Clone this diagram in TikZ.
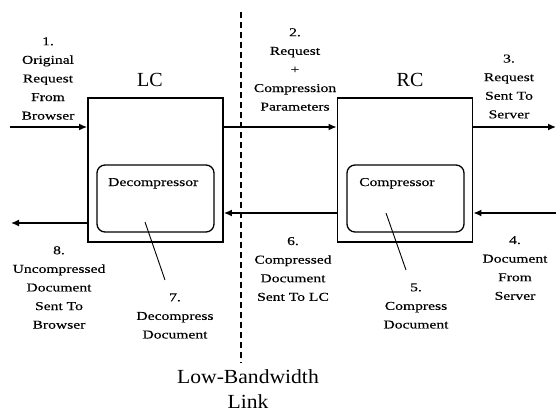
\documentclass[tikz,border=0pt]{standalone}
\usepackage{fontspec}
\setmainfont{Liberation Serif}
\newfontfamily\lblfont[FakeStretch=1.3,FakeBold=0.3]{Liberation Serif}
\newfontfamily\bigfont[FakeStretch=1.08]{Liberation Serif}
\usetikzlibrary{arrows.meta}
\begin{document}
\begin{tikzpicture}[x=1pt,y=-1pt,
  outerbox/.style={draw,line width=1.8pt,minimum width=135pt,minimum height=144pt,inner sep=0pt},
  innerbox/.style={draw,line width=1.3pt,rounded corners=8pt,minimum width=117pt,minimum height=67pt,inner sep=0pt},
  flow/.style={line width=1.4pt,-{Latex[length=8pt,width=7pt]}},
  lbl/.style={align=center,inner sep=0pt,font=\lblfont\fontsize{12}{18.6}\selectfont},
  title/.style={inner sep=0pt,font=\fontsize{20}{24}\selectfont},
  pointer/.style={line width=0.9pt},
  link/.style={line width=1.3pt,dash pattern=on 6pt off 4pt}]
\useasboundingbox (0,0) rectangle (556,412);

% the two proxies
\node[outerbox] (lc) at (155.5,170) {};
\node[outerbox] (rc) at (405,170) {};
\node[innerbox] (dec) at (155.5,198.5) {};
\node[innerbox] (com) at (405.5,198.5) {};
\node[lbl,anchor=base west] (dect) at (108,186) {Decompressor};
\node[lbl,anchor=base west] (comt) at (359,186) {Compressor};
\node[title] (lct) at (150,80) {LC};
\node[title] (rct) at (410,80) {RC};

% low-bandwidth link
\coordinate (linktop) at (241,12);
\coordinate (linkbot) at (241,363);
\draw[link] (linktop) -- (linkbot);
\node[align=center,inner sep=0pt,font=\bigfont\fontsize{20}{25}\selectfont] (linkt) at (248,389) {Low-Bandwidth\\Link};

% free ends of the outer arrows
\coordinate (browserin) at (10,127);
\coordinate (serverout) at (556,127);
\coordinate (serverin) at (556,213);
\coordinate (browserout) at (11,223);

% request path
\draw[flow] (browserin) -- (browserin -| lc.west);
\draw[flow] (lc.east |- browserin) -- (rc.west |- browserin);
\draw[flow] (rc.east |- serverout) -- (serverout);

% response path
\draw[flow] (serverin) -- (serverin -| rc.east);
\draw[flow] (rc.west |- serverin) -- (lc.east |- serverin);
\draw[flow] (lc.west |- browserout) -- (browserout);

% step labels
\node[lbl] (s1) at (48,78.5) {1.\\Original\\Request\\From\\Browser};
\node[lbl] (s2) at (295,69.5) {2.\\Request\\+\\Compression\\Parameters};
\node[lbl] (s3) at (509,86.5) {3.\\Request\\Sent To\\Server};
\node[lbl] (s4) at (515,268) {4.\\Document\\From\\Server};
\node[lbl] (s5) at (416,306) {5.\\Compress\\Document};
\node[lbl] (s6) at (293,269) {6.\\Compressed\\Document\\Sent To LC};
\node[lbl] (s7) at (175,316) {7.\\Decompress\\Document};
\node[lbl] (s8) at (59,287.5) {8.\\Uncompressed\\Document\\Sent To\\Browser};

% pointers from the processing boxes to their steps
\coordinate (p7a) at (145,222);
\coordinate (p7b) at (165,280);
\coordinate (p5a) at (386,213);
\coordinate (p5b) at (406,270);
\draw[pointer] (p7a) -- (p7b);
\draw[pointer] (p5a) -- (p5b);
\end{tikzpicture}
\end{document}
